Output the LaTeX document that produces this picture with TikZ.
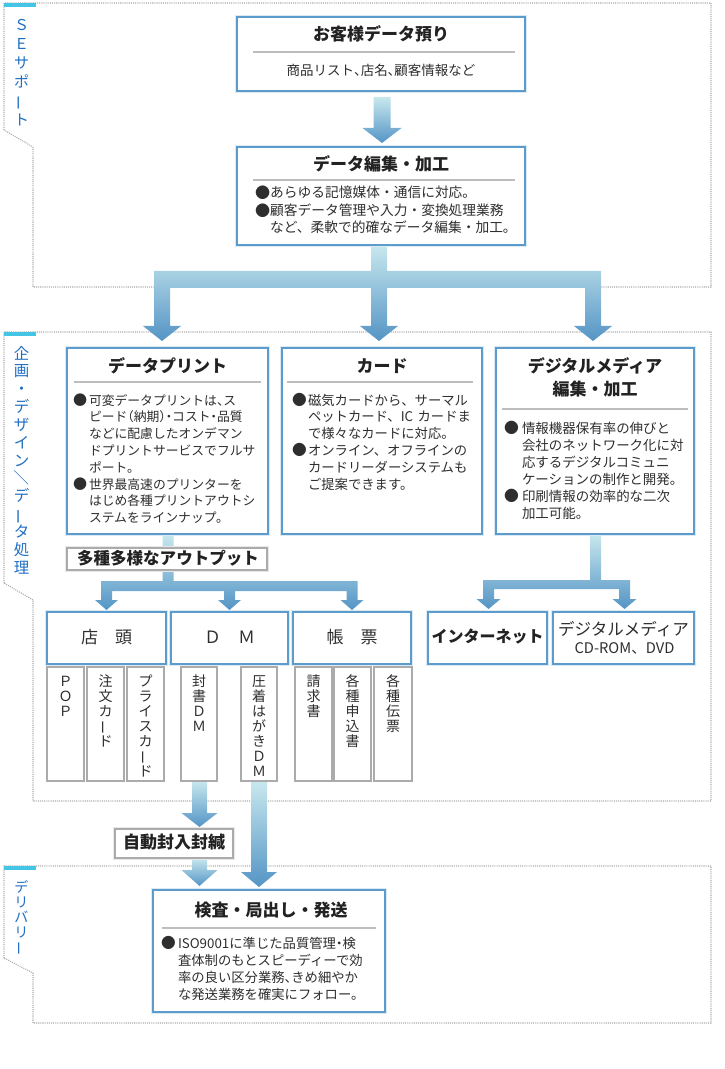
\documentclass[tikz,border=0pt]{standalone}
\usepackage{fontspec}
\setmainfont{Noto Sans CJK JP}
\newfontfamily\hfont[RawFeature=+halt]{Noto Sans CJK JP}
\usetikzlibrary{calc,fit}
\definecolor{boxblue}{HTML}{5C9CCC}
\definecolor{glow}{HTML}{DCEAF4}
\definecolor{txt}{HTML}{2E2E2E}
\definecolor{ttlc}{HTML}{222222}
\definecolor{secblue}{HTML}{1F6EC2}
\definecolor{cyanbar}{HTML}{45C5E5}
\definecolor{dotgray}{HTML}{ABABAB}
\definecolor{grayb}{HTML}{ABABAB}
\definecolor{grayglow}{HTML}{E8E8E8}
\definecolor{sepgray}{HTML}{BDBDBD}
\definecolor{arrtop}{HTML}{C8E8EE}
\definecolor{arrbot}{HTML}{5494C5}
\newcommand\pxu{0.75pt}
\newcommand\fsz[2]{\fontsize{#1}{#2}\selectfont}
\newcommand\hp[1]{{\hfont #1}}
\newcommand\vbar{\rotatebox[origin=c]{90}{ー}}
\newcommand\vslash{\rotatebox[origin=c]{90}{／}}
\newlength\bw
\newcommand\bul{\makebox[\bw][l]{\raisebox{-0.04em}{\scalebox{1.1}{●}}}}
\newcommand\ind{\hspace*{\bw}}
\pgfdeclarelayer{bg}
\pgfsetlayers{bg,main}
\newcommand\fatdown[5]{\shade[arrowshade] let \p1=#1,\p2=#2 in
 (\x1-#3*\pxu,\y1) -- (\x1+#3*\pxu,\y1) -- (\x1+#3*\pxu,\y2+#5*\pxu) -- (\x1+#4*\pxu,\y2+#5*\pxu) -- (\x1,\y2) -- (\x1-#4*\pxu,\y2+#5*\pxu) -- (\x1-#3*\pxu,\y2+#5*\pxu) -- cycle;}
\newcommand\threebranch[9]{\shade[arrowshade] let \p1=#1,\p2=#2,\p3=#3,\p4=#4 in
 (\x1-#5*\pxu,\y1) -- (\x1+#5*\pxu,\y1) -- (\x1+#5*\pxu,\y1-#8*\pxu) -- (\x4+#5*\pxu,\y1-#8*\pxu) -- (\x4+#5*\pxu,\y4+#7*\pxu) -- (\x4+#6*\pxu,\y4+#7*\pxu) -- (\x4,\y4) -- (\x4-#6*\pxu,\y4+#7*\pxu) -- (\x4-#5*\pxu,\y4+#7*\pxu) -- (\x4-#5*\pxu,\y1-#9*\pxu) -- (\x3+#5*\pxu,\y1-#9*\pxu) -- (\x3+#5*\pxu,\y3+#7*\pxu) -- (\x3+#6*\pxu,\y3+#7*\pxu) -- (\x3,\y3) -- (\x3-#6*\pxu,\y3+#7*\pxu) -- (\x3-#5*\pxu,\y3+#7*\pxu) -- (\x3-#5*\pxu,\y1-#9*\pxu) -- (\x2+#5*\pxu,\y1-#9*\pxu) -- (\x2+#5*\pxu,\y2+#7*\pxu) -- (\x2+#6*\pxu,\y2+#7*\pxu) -- (\x2,\y2) -- (\x2-#6*\pxu,\y2+#7*\pxu) -- (\x2-#5*\pxu,\y2+#7*\pxu) -- (\x2-#5*\pxu,\y1-#8*\pxu) -- (\x1-#5*\pxu,\y1-#8*\pxu) -- cycle;}
\newcommand\twobranch[8]{\shade[arrowshade] let \p1=#1,\p2=#2,\p3=#3 in
 (\x1-#4*\pxu,\y1) -- (\x1+#4*\pxu,\y1) -- (\x1+#4*\pxu,\y1-#7*\pxu) -- (\x3+#4*\pxu,\y1-#7*\pxu) -- (\x3+#4*\pxu,\y3+#6*\pxu) -- (\x3+#5*\pxu,\y3+#6*\pxu) -- (\x3,\y3) -- (\x3-#5*\pxu,\y3+#6*\pxu) -- (\x3-#4*\pxu,\y3+#6*\pxu) -- (\x3-#4*\pxu,\y1-#8*\pxu) -- (\x2+#4*\pxu,\y1-#8*\pxu) -- (\x2+#4*\pxu,\y2+#6*\pxu) -- (\x2+#5*\pxu,\y2+#6*\pxu) -- (\x2,\y2) -- (\x2-#5*\pxu,\y2+#6*\pxu) -- (\x2-#4*\pxu,\y2+#6*\pxu) -- (\x2-#4*\pxu,\y1-#7*\pxu) -- (\x1-#4*\pxu,\y1-#7*\pxu) -- cycle;}
\begin{document}
\begin{tikzpicture}[x=0.75pt,y=-0.75pt,
 every node/.style={inner sep=0pt,outer sep=0pt,text=txt},
 bluebox/.style={draw=boxblue,line width=1.1pt,fill=white,preaction={draw=glow,line width=3.6pt}},
 graybox/.style={draw=grayb,line width=1.1pt,fill=white,preaction={draw=grayglow,line width=3.6pt}},
 subbox/.style={draw=grayb,line width=0.8pt,fill=white},
 ttl/.style={text=ttlc,font={\bfseries\fsz{12.75}{15}},text height=0.88em,text depth=0.12em},
 lbl/.style={font={\fsz{12.75}{15}},text height=0.88em,text depth=0.12em},
 sepline/.style={draw=sepgray,line width=0.8pt},
 section/.style={draw=dotgray,line width=0.8pt,dash pattern=on 0.8pt off 0.8pt},
 seclabel/.style={text=secblue,align=center,text width=20pt,anchor=base},
 vtext/.style={align=center,text width=15pt,anchor=base,font={\fsz{10.5}{11.25}}},
 body/.style={anchor=base west,align=left,text width=260pt},
 arrowshade/.style={top color=arrtop,bottom color=arrbot},
]
\useasboundingbox (0,0) rectangle (724,1069);

% ---------- boxes ----------
\node[bluebox,fit={(237,17)(525,91)}] (a) {};
\node[bluebox,fit={(237,147)(525,245)}] (b) {};
\node[bluebox,fit={(67,348)(268,534)}] (c) {};
\node[bluebox,fit={(282,348)(482,534)}] (d) {};
\node[bluebox,fit={(496,348)(694,534)}] (e) {};
\node[graybox,fit={(67,548)(267,570)}] (out) {};
\node[bluebox,fit={(47,612)(166,664)}] (tento) {};
\node[bluebox,fit={(171,612)(288,664)}] (dm) {};
\node[bluebox,fit={(293,612)(411,664)}] (chohyo) {};
\node[bluebox,fit={(428,612)(547,664)}] (inet) {};
\node[bluebox,fit={(553,612)(694,664)}] (dmedia) {};
\node[subbox,fit={(47,667)(84,781)}] (pop) {};
\node[subbox,fit={(87,667)(124,781)}] (chumon) {};
\node[subbox,fit={(127,667)(164,781)}] (price) {};
\node[subbox,fit={(181,667)(217,781)}] (fusho) {};
\node[subbox,fit={(241,667)(277,781)}] (asaku) {};
\node[subbox,fit={(295,667)(332,781)}] (seikyu) {};
\node[subbox,fit={(334,667)(371,781)}] (moushi) {};
\node[subbox,fit={(374,667)(412,781)}] (denpyo) {};
\node[graybox,fit={(115,829)(233,858)}] (fuunyu) {};
\node[bluebox,fit={(153,890)(385,1012)}] (f) {};

% ---------- texts ----------
\node[ttl] (at) at (381,35) {お客様データ預り};
\draw[sepline] (253,52) -- (515,52);
\node[font={\fsz{10.1}{12}},text height=0.88em,text depth=0.12em] (as) at (381,70) {商品リスト\hp{、}店名\hp{、}顧客情報など};

\node[ttl] (bt) at (381,165) {データ編集・加工};
\draw[sepline] (253,180) -- (515,180);
\node[body,font={\fsz{10.3}{13.1}}] (bb) at (255,198) {\setlength\bw{11.4pt}\bul あらゆる記憶媒体・通信に対応。\\\bul 顧客データ管理や入力・変換処理業務\\\ind など、柔軟で的確なデータ編集・加工。};

\node[ttl] (ct) at (167.5,367) {データプリント};
\draw[sepline] (74,382) -- (261,382);
\node[body,font={\fsz{9.6}{12.6}}] (cb) at (73,405) {\setlength\bw{12pt}\bul 可変データプリントは\hp{、}ス\\\ind ピード\hp{（}納期\hp{）・}コスト\hp{・}品質\\\ind などに配慮したオンデマン\\\ind ドプリントサービスでフルサ\\\ind ポート。\\\bul 世界最高速のプリンターを\\\ind はじめ各種プリントアウトシ\\\ind ステムをラインナップ。};

\node[ttl] (dt) at (382,367) {カード};
\draw[sepline] (287,382) -- (473,382);
\node[body,font={\fsz{10}{12.6}}] (db) at (292,405) {\setlength\bw{12pt}\bul 磁気カードから、サーマル\\\ind ペットカード、IC カードま\\\ind で様々なカードに対応。\\\bul オンライン、オフラインの\\\ind カードリーダーシステムも\\\ind ご提案できます。};

\node[ttl] (et1) at (595,367) {デジタルメディア};
\node[ttl] (et2) at (595,390) {編集・加工};
\draw[sepline] (502,409) -- (688,409);
\node[body,font={\fsz{10.1}{12.75}}] (eb) at (504,433) {\setlength\bw{13.5pt}\bul 情報機器保有率の伸びと\\\ind 会社のネットワーク化に対\\\ind 応するデジタルコミュニ\\\ind ケーションの制作と開発。\\\bul 印刷情報の効率的な二次\\\ind 加工可能。};

\node[ttl,font={\bfseries\fsz{12.4}{15}}] (ot) at (168,559) {多種多様なアウトプット};
\node[lbl] (tt) at (106.5,638) {店　頭};
\node[lbl] (dmt) at (229.5,638) {Ｄ　Ｍ};
\node[lbl] (cht) at (352,638) {帳　票};
\node[ttl,font={\bfseries\fsz{12}{15}}] (it) at (487.5,637) {インターネット};
\node[lbl,font={\fsz{12.4}{15}}] (dmt1) at (623.5,630) {デジタルメディア};
\node[lbl,font={\fsz{11}{13}}] (dmt2) at (624.5,648) {CD-ROM、DVD};

\node[vtext] (popt) at (65.5,686) {Ｐ\\Ｏ\\Ｐ};
\node[vtext] (chumont) at (105.5,686) {注\\文\\カ\\\vbar\\ド};
\node[vtext] (pricet) at (145.5,686) {プ\\ラ\\イ\\ス\\カ\\\vbar\\ド};
\node[vtext] (fushot) at (199,686) {封\\書\\Ｄ\\Ｍ};
\node[vtext] (asakut) at (259,686) {圧\\着\\は\\が\\き\\Ｄ\\Ｍ};
\node[vtext] (seikyut) at (313.5,686) {請\\求\\書};
\node[vtext] (moushit) at (352.5,686) {各\\種\\申\\込\\書};
\node[vtext] (denpyot) at (393,686) {各\\種\\伝\\票};

\node[ttl] (fut) at (174,843) {自動封入封緘};
\node[ttl] (ft) at (271,911) {検査・局出し・発送};
\draw[sepline] (162,928) -- (376,928);
\node[body,font={\fsz{10}{12.75}}] (fb) at (161,948) {\setlength\bw{12.75pt}\bul ISO9001に準じた品質管理\hp{・}検\\\ind 査体制のもとスピーディーで効\\\ind 率の良い区分業務\hp{、}きめ細やか\\\ind な発送業務を確実にフォロー。};

% section labels
\node[seclabel,font={\fsz{11.25}{14.25}}] (s1) at (21.5,30.7) {Ｓ\\Ｅ\\サ\\ポ\\\vbar\\ト};
\node[seclabel,font={\fsz{11.6}{13.4}}] (s2) at (21.5,359) {企\\画\\・\\デ\\ザ\\イ\\ン\\\vslash\\デ\\\vbar\\タ\\処\\理};
\node[seclabel,font={\fsz{10.5}{11.25}}] (s3) at (21.5,892) {デ\\リ\\バ\\リ\\\vbar};

% ---------- background: sections and arrows ----------
\begin{pgfonlayer}{bg}
\draw[section] (4,130) -- (4,3) -- (711,3) -- (711,287) -- (33,287) -- (33,147) -- cycle;
\draw[section] (4,583) -- (4,332) -- (711,332) -- (711,801) -- (33,801) -- (33,600) -- cycle;
\draw[section] (4,958) -- (4,866) -- (711,866) -- (711,1023) -- (33,1023) -- (33,973) -- cycle;
\fill[cyanbar] (4,3) rectangle (36,7);
\fill[cyanbar] (4,332) rectangle (36,336);
\fill[cyanbar] (4,866) rectangle (36,870);

\fatdown{($(a.south)+(1,6)$)}{($(b.north)+(0,-4)$)}{8.5}{19.5}{15}
\threebranch{($(b.south)+(-2,0)$)}{($(c.north)+(-5.5,-7)$)}{($(d.north)+(-3,-7)$)}{($(e.north)+(-2,-7)$)}{8}{19}{15}{26}{43}
\threebranch{($(c.south)+(0.5,0)$)}{($(tento.north)+(0,-2)$)}{($(dm.north)+(0,-2)$)}{($(chohyo.north)+(0,-2)$)}{5.5}{11.5}{10}{47}{57}
\twobranch{($(e.south)+(0.5,0)$)}{($(inet.north)+(1,-3)$)}{($(dmedia.north)+(1,-3)$)}{5.5}{12}{10}{46}{55}
\fatdown{($(fusho.south)+(0.5,0)$)}{($(fuunyu.north)+(0,-2)$)}{7.5}{18}{14}
\fatdown{($(fusho.south |- fuunyu.south)+(0.5,0)$)}{($(f.north)+(0,-4)$)}{7.5}{18}{16}
\fatdown{(asaku.south)}{($(f.north)+(0,-3)$)}{8}{18}{15}
\end{pgfonlayer}
\end{tikzpicture}
\end{document}
